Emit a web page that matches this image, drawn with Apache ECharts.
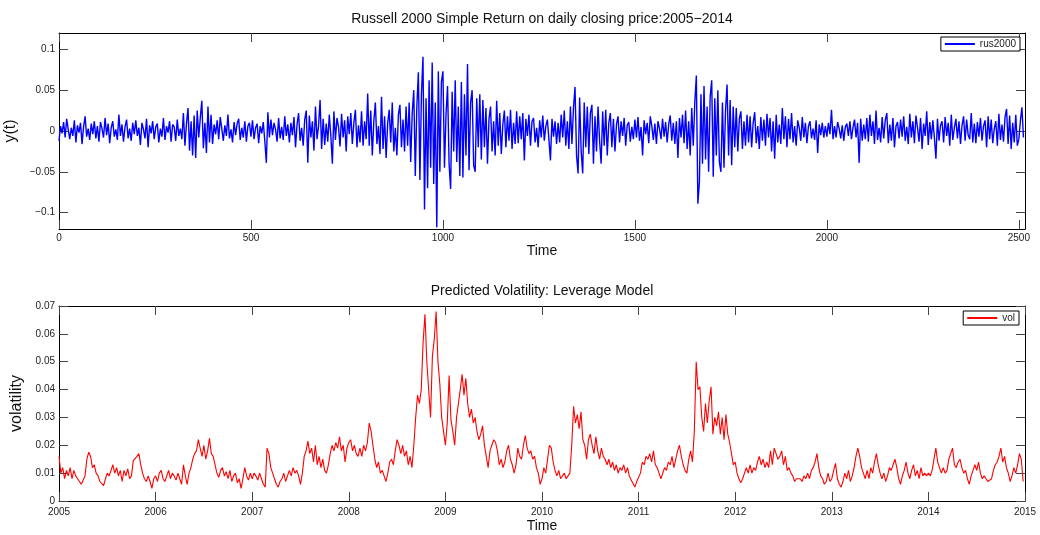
<!DOCTYPE html>
<html>
<head>
<meta charset="utf-8">
<script src="https://cdn.jsdelivr.net/npm/echarts@6/dist/echarts.min.js"></script>
<style>html,body{margin:0;padding:0;background:#fff}#c{width:1040px;height:535px}</style>
</head>
<body>
<div id="c"></div>
<script>
// ---- data ----
const returnStep = 4; // trading days between stored return samples
const dailyReturnSamples = [
-0.012,0.006,-0.003,0.011,-0.008,0.015,0.002,-0.010,0.004,-0.006,0.013,-0.014,0.007,-0.002,0.010,-0.016,0.005,0.018,-0.007,0.003,-0.011,0.009,-0.004,0.012,-0.009,
0.006,-0.013,0.011,0.003,-0.008,0.016,-0.005,0.009,-0.015,0.004,0.012,-0.007,0.002,-0.011,0.020,-0.006,0.008,-0.013,0.005,0.014,-0.009,0.003,-0.012,0.010,-0.004,
0.013,-0.006,0.004,-0.017,0.010,0.002,-0.009,0.015,-0.020,0.007,-0.003,0.012,-0.010,0.005,0.009,-0.014,0.003,-0.007,0.016,-0.011,0.006,-0.002,0.012,-0.013,0.008,
0.005,-0.012,0.014,-0.006,0.003,-0.010,0.022,-0.018,0.009,0.028,-0.024,0.012,-0.030,0.019,-0.033,0.025,-0.008,0.016,0.037,-0.021,0.010,-0.027,0.030,-0.014,0.020,
-0.016,0.008,-0.004,0.013,-0.010,0.017,0.003,-0.012,0.007,-0.006,0.020,-0.009,0.002,-0.014,0.011,-0.005,0.009,0.015,-0.011,0.004,-0.008,0.012,-0.013,0.006,0.010,
-0.007,0.013,-0.010,0.004,0.009,-0.015,0.006,-0.003,0.011,-0.012,-0.039,0.023,-0.008,0.014,-0.005,0.010,0.002,-0.013,0.016,-0.009,0.005,-0.011,0.018,-0.006,0.008,
-0.014,0.010,-0.005,0.017,-0.020,0.008,0.022,-0.012,0.004,-0.018,0.014,0.025,-0.039,0.019,-0.008,0.012,-0.024,0.030,-0.010,0.006,0.038,-0.022,0.015,-0.017,0.009,
-0.013,0.020,-0.006,-0.040,0.024,-0.011,0.016,0.005,-0.019,0.021,-0.008,0.013,-0.025,0.018,-0.004,0.022,-0.016,0.010,0.026,-0.020,0.007,-0.014,0.024,-0.018,0.012,
-0.010,0.046,-0.018,0.025,-0.030,0.012,0.035,-0.016,0.006,-0.028,0.042,-0.022,0.018,-0.033,0.009,0.026,-0.014,0.035,-0.025,0.004,-0.030,0.020,0.032,-0.020,0.014,
-0.025,0.030,-0.018,0.035,-0.038,0.022,0.050,-0.055,0.030,0.072,-0.060,0.045,0.091,-0.096,0.040,-0.070,0.062,-0.045,0.084,-0.065,0.035,-0.118,0.073,-0.050,0.060,
0.073,-0.045,0.020,0.055,-0.040,-0.071,0.048,-0.025,0.062,-0.038,0.030,-0.055,0.060,-0.057,0.045,-0.030,0.082,-0.048,0.035,0.050,-0.042,-0.050,0.040,-0.020,0.045,
-0.035,0.038,-0.020,0.028,-0.040,0.015,0.030,-0.025,0.012,-0.030,0.037,-0.018,0.022,-0.028,0.008,0.025,-0.020,0.018,-0.012,0.026,-0.022,0.010,-0.016,0.024,-0.015,
0.018,-0.010,0.022,-0.036,0.015,-0.006,0.020,-0.018,0.012,0.016,-0.014,0.004,-0.020,0.013,-0.008,0.019,-0.012,0.006,0.014,-0.010,-0.036,0.015,-0.007,0.012,-0.016,
0.010,-0.014,0.020,-0.008,0.025,-0.018,0.012,-0.022,0.030,-0.016,0.028,0.054,-0.030,-0.052,0.041,-0.025,-0.052,0.035,-0.020,0.030,-0.028,0.022,0.032,-0.040,0.018,
-0.025,0.030,-0.012,-0.040,0.024,-0.018,0.026,-0.030,0.010,0.022,-0.020,0.015,-0.025,0.008,0.018,-0.014,0.012,-0.006,0.016,-0.018,0.007,0.011,-0.013,0.005,-0.010,
0.014,-0.008,0.017,-0.012,0.005,-0.030,0.013,-0.004,0.010,-0.015,0.018,0.006,-0.011,0.009,-0.016,0.012,0.003,-0.010,0.015,-0.007,0.011,-0.014,0.008,0.019,-0.012,
0.010,-0.016,0.012,-0.033,0.016,-0.008,0.020,-0.015,0.025,-0.022,0.012,-0.030,0.028,-0.018,0.035,0.068,-0.089,-0.062,0.045,-0.040,0.055,-0.035,0.030,-0.050,0.042,
0.062,-0.056,0.040,-0.030,0.050,-0.038,-0.050,0.035,-0.045,0.025,0.057,-0.030,0.038,-0.042,0.030,-0.020,0.028,-0.025,0.015,0.024,-0.022,0.012,-0.018,0.020,-0.014,
0.018,-0.020,0.010,0.023,-0.015,0.006,-0.022,0.017,-0.012,0.014,-0.018,0.021,-0.008,0.016,-0.025,0.012,-0.034,0.020,-0.014,0.008,-0.016,0.028,-0.010,0.018,-0.020,
0.015,-0.010,0.022,-0.014,0.006,-0.018,0.013,0.004,-0.012,0.017,-0.008,0.010,-0.015,0.006,0.012,-0.009,0.003,-0.011,0.013,-0.027,0.008,-0.005,0.010,-0.008,0.006,
-0.007,0.010,-0.004,0.026,-0.010,0.006,-0.008,0.011,0.003,-0.009,0.007,-0.012,0.005,0.009,-0.006,0.012,-0.010,0.004,0.014,-0.008,0.010,-0.039,0.015,-0.012,0.008,
-0.010,0.016,-0.013,0.020,-0.006,0.012,-0.016,0.025,-0.011,0.004,-0.014,0.017,-0.009,0.013,0.022,-0.015,0.008,-0.012,0.016,-0.020,0.006,0.011,-0.009,0.014,-0.007,
0.018,-0.012,0.005,-0.016,0.021,-0.008,0.012,-0.015,0.019,0.004,-0.013,0.016,-0.022,0.009,-0.006,0.024,-0.017,0.011,-0.010,0.013,-0.008,-0.034,0.015,-0.012,0.007,
0.012,-0.014,0.017,-0.006,0.010,-0.018,0.020,-0.011,0.004,0.015,-0.009,0.012,-0.016,0.007,0.018,-0.012,0.014,-0.005,-0.010,0.022,-0.014,0.009,-0.015,0.011,-0.007,
0.016,-0.012,0.006,0.013,-0.020,0.018,-0.010,0.014,-0.015,0.003,0.012,-0.018,0.021,-0.011,0.008,-0.013,0.017,0.027,-0.016,0.019,-0.022,0.010,-0.014,0.020,-0.018,
-0.010,0.012,0.029,-0.008
];

// weekly predicted volatility, 52 samples per year
const vol2005 = [0.016,0.010,0.012,0.008,0.011,0.009,0.012,0.008,0.011,0.009,0.008,0.007,0.006,0.0065,0.009,0.015,0.0175,0.016,0.012,0.013,0.010,0.009,0.007,0.0065,0.0055,0.008,0.010,0.009,0.011,0.013,0.010,0.012,0.009,0.011,0.007,0.011,0.009,0.0115,0.008,0.009,0.0145,0.014,0.016,0.017,0.013,0.010,0.008,0.007,0.009,0.007,0.0045,0.008];
const vol2006 = [0.009,0.007,0.010,0.011,0.008,0.007,0.009,0.011,0.008,0.010,0.009,0.0075,0.010,0.008,0.006,0.013,0.009,0.006,0.010,0.012,0.015,0.017,0.018,0.022,0.019,0.016,0.020,0.015,0.018,0.0225,0.017,0.016,0.013,0.010,0.0085,0.011,0.012,0.009,0.0105,0.008,0.011,0.007,0.009,0.010,0.0065,0.008,0.0045,0.008,0.012,0.009,0.0075,0.010];
const vol2007 = [0.008,0.010,0.009,0.0075,0.010,0.008,0.006,0.005,0.019,0.017,0.012,0.010,0.008,0.006,0.005,0.007,0.008,0.010,0.007,0.009,0.011,0.009,0.012,0.010,0.011,0.009,0.006,0.010,0.016,0.018,0.0215,0.017,0.019,0.014,0.020,0.013,0.016,0.012,0.015,0.011,0.010,0.013,0.017,0.020,0.018,0.021,0.019,0.023,0.018,0.020,0.014,0.019];
const vol2008 = [0.021,0.022,0.018,0.020,0.017,0.016,0.019,0.016,0.020,0.018,0.021,0.028,0.025,0.020,0.015,0.012,0.014,0.010,0.011,0.009,0.007,0.010,0.014,0.015,0.013,0.018,0.022,0.020,0.017,0.020,0.016,0.018,0.013,0.016,0.012,0.020,0.030,0.038,0.035,0.040,0.057,0.067,0.050,0.040,0.030,0.052,0.058,0.068,0.050,0.042,0.030,0.025];
const vol2009 = [0.020,0.028,0.045,0.029,0.025,0.020,0.030,0.035,0.040,0.0455,0.038,0.044,0.035,0.030,0.033,0.028,0.030,0.025,0.022,0.024,0.027,0.020,0.016,0.012,0.018,0.020,0.022,0.021,0.018,0.013,0.015,0.012,0.014,0.018,0.020,0.015,0.013,0.010,0.013,0.019,0.016,0.015,0.020,0.0235,0.019,0.017,0.018,0.015,0.016,0.012,0.010,0.006];
const vol2010 = [0.008,0.012,0.010,0.015,0.020,0.019,0.014,0.011,0.009,0.011,0.008,0.0075,0.010,0.008,0.009,0.010,0.020,0.034,0.028,0.031,0.026,0.032,0.022,0.020,0.015,0.022,0.024,0.020,0.017,0.023,0.018,0.015,0.019,0.016,0.015,0.013,0.015,0.012,0.014,0.011,0.013,0.010,0.012,0.011,0.013,0.010,0.012,0.009,0.0075,0.008,0.005,0.007];
const vol2011 = [0.007,0.010,0.014,0.013,0.016,0.015,0.017,0.014,0.018,0.013,0.012,0.010,0.008,0.008,0.012,0.011,0.014,0.013,0.016,0.012,0.015,0.018,0.020,0.016,0.013,0.011,0.010,0.015,0.018,0.014,0.025,0.050,0.040,0.041,0.030,0.025,0.035,0.028,0.036,0.041,0.024,0.030,0.027,0.032,0.024,0.030,0.022,0.031,0.024,0.021,0.017,0.013];
const vol2012 = [0.014,0.010,0.008,0.0065,0.008,0.010,0.012,0.010,0.013,0.010,0.012,0.011,0.014,0.016,0.013,0.015,0.012,0.014,0.012,0.018,0.013,0.019,0.017,0.015,0.016,0.018,0.013,0.016,0.011,0.012,0.010,0.009,0.007,0.008,0.0075,0.008,0.007,0.009,0.008,0.010,0.008,0.011,0.012,0.014,0.017,0.012,0.009,0.008,0.006,0.007,0.010,0.007];
const vol2013 = [0.008,0.011,0.0135,0.008,0.006,0.005,0.007,0.010,0.008,0.011,0.007,0.009,0.012,0.016,0.019,0.016,0.012,0.010,0.008,0.011,0.008,0.012,0.010,0.014,0.017,0.013,0.010,0.008,0.010,0.007,0.009,0.012,0.011,0.013,0.015,0.012,0.008,0.006,0.009,0.011,0.014,0.010,0.008,0.011,0.013,0.009,0.011,0.008,0.012,0.009,0.010,0.009];
const vol2014 = [0.010,0.009,0.011,0.015,0.019,0.014,0.012,0.010,0.012,0.010,0.011,0.015,0.017,0.019,0.013,0.012,0.014,0.015,0.012,0.010,0.011,0.008,0.006,0.009,0.011,0.013,0.011,0.014,0.010,0.008,0.009,0.008,0.007,0.007,0.008,0.011,0.013,0.014,0.016,0.019,0.014,0.016,0.012,0.010,0.007,0.009,0.012,0.010,0.013,0.017,0.015,0.007];

const returnTicks = [0, 500, 1000, 1500, 2000, 2500];
const returnYTicks = [-0.1, -0.05, 0, 0.05, 0.1];
const yearTicks = [2005, 2006, 2007, 2008, 2009, 2010, 2011, 2012, 2013, 2014, 2015];

// ---- build series data ----
const returnData = dailyReturnSamples.map((v, i) => [i * returnStep, v]);
const volYears = [vol2005, vol2006, vol2007, vol2008, vol2009, vol2010, vol2011, vol2012, vol2013, vol2014];
const volData = [];
volYears.forEach((arr, y) => arr.forEach((v, w) => volData.push([yearTicks[y] + w / arr.length, v])));

const FONT = 'Liberation Sans, Arial, Helvetica, sans-serif';
const lab = { fontFamily: FONT, fontSize: 10, color: '#222', margin: 4 };
const line = { show: true, onZero: false, lineStyle: { color: '#000', width: 1 } };
const tick = { show: true, inside: true, length: 9, lineStyle: { color: '#444', width: 1 } };
const minus = v => String(v).replace('-', '\u2212');

const chart = echarts.init(document.getElementById('c'), null, { renderer: 'canvas' });
chart.setOption({
  animation: false,
  backgroundColor: '#fff',
  title: [
    { text: 'Russell 2000 Simple Return on daily closing price:2005\u22122014', left: 542, top: 12, textAlign: 'center', padding: 0,
      textStyle: { fontFamily: FONT, fontSize: 14, fontWeight: 'normal', color: '#111' } },
    { text: 'Predicted Volatility: Leverage Model', left: 542, top: 284, textAlign: 'center', padding: 0,
      textStyle: { fontFamily: FONT, fontSize: 14, fontWeight: 'normal', color: '#111' } }
  ],
  legend: [
    { data: ['rus2000'], right: 20, top: 37, backgroundColor: '#fff', borderColor: '#000', borderWidth: 1, borderRadius: 0,
      padding: [2, 4, 2, 4], itemWidth: 30, itemHeight: 2, icon: 'rect', itemGap: 0,
      textStyle: { fontFamily: FONT, fontSize: 10, color: '#222' } },
    { data: ['vol'], right: 21, top: 311, backgroundColor: '#fff', borderColor: '#000', borderWidth: 1, borderRadius: 0,
      padding: [2, 4, 2, 4], itemWidth: 30, itemHeight: 2, icon: 'rect', itemGap: 0,
      textStyle: { fontFamily: FONT, fontSize: 10, color: '#222' } }
  ],
  grid: [
    { left: 59, right: 15, top: 33, height: 196, show: false, containLabel: false, outerBoundsMode: 'none' },
    { left: 59, right: 15, top: 306, height: 195, show: false, containLabel: false, outerBoundsMode: 'none' }
  ],
  xAxis: [
    { gridIndex: 0, type: 'value', position: 'bottom', min: 0, max: 2516, axisLine: line,
      axisTick: Object.assign({}, tick, { customValues: returnTicks }),
      axisLabel: Object.assign({}, lab, { customValues: returnTicks, formatter: v => String(v) }), splitLine: { show: false },
      name: 'Time', nameLocation: 'middle', nameGap: 15, nameTextStyle: { fontFamily: FONT, fontSize: 14, color: '#111' } },
    { gridIndex: 0, type: 'value', position: 'top', min: 0, max: 2516, axisLine: line,
      axisTick: Object.assign({}, tick, { customValues: returnTicks }),
      axisLabel: { show: false }, splitLine: { show: false } },
    { gridIndex: 1, type: 'value', position: 'bottom', min: 2005, max: 2015, axisLine: line,
      axisTick: Object.assign({}, tick, { customValues: yearTicks }),
      axisLabel: Object.assign({}, lab, { margin: 6, customValues: yearTicks, formatter: v => String(Math.round(v)) }), splitLine: { show: false },
      name: 'Time', nameLocation: 'middle', nameGap: 18, nameTextStyle: { fontFamily: FONT, fontSize: 14, color: '#111' } },
    { gridIndex: 1, type: 'value', position: 'top', min: 2005, max: 2015, axisLine: line,
      axisTick: Object.assign({}, tick, { customValues: yearTicks }),
      axisLabel: { show: false }, splitLine: { show: false } }
  ],
  yAxis: [
    { gridIndex: 0, type: 'value', position: 'left', min: -0.12, max: 0.12, axisLine: line,
      axisTick: Object.assign({}, tick, { customValues: returnYTicks }),
      axisLabel: Object.assign({}, lab, { customValues: returnYTicks, formatter: minus }), splitLine: { show: false },
      name: 'y(t)', nameLocation: 'middle', nameGap: 33, nameTextStyle: { fontFamily: FONT, fontSize: 16, color: '#111' } },
    { gridIndex: 0, type: 'value', position: 'right', min: -0.12, max: 0.12, axisLine: line,
      axisTick: Object.assign({}, tick, { customValues: returnYTicks }),
      axisLabel: { show: false }, splitLine: { show: false } },
    { gridIndex: 1, type: 'value', position: 'left', min: 0, max: 0.07, interval: 0.01, axisLine: line,
      axisTick: tick, axisLabel: lab, splitLine: { show: false },
      name: 'volatility', nameLocation: 'middle', nameGap: 29, nameTextStyle: { fontFamily: FONT, fontSize: 16, color: '#111' } },
    { gridIndex: 1, type: 'value', position: 'right', min: 0, max: 0.07, interval: 0.01, axisLine: line,
      axisTick: tick, axisLabel: { show: false }, splitLine: { show: false } }
  ],
  series: [
    { name: 'rus2000', type: 'line', xAxisIndex: 0, yAxisIndex: 0, data: returnData, showSymbol: false, symbol: 'none',
      sampling: false, lineStyle: { color: '#0000ff', width: 1.4 }, itemStyle: { color: '#0000ff' }, silent: true },
    { name: 'vol', type: 'line', xAxisIndex: 2, yAxisIndex: 2, data: volData, showSymbol: false, symbol: 'none',
      lineStyle: { color: '#ff0000', width: 1.1 }, itemStyle: { color: '#ff0000' }, silent: true }
  ]
});
</script>
</body>
</html>
